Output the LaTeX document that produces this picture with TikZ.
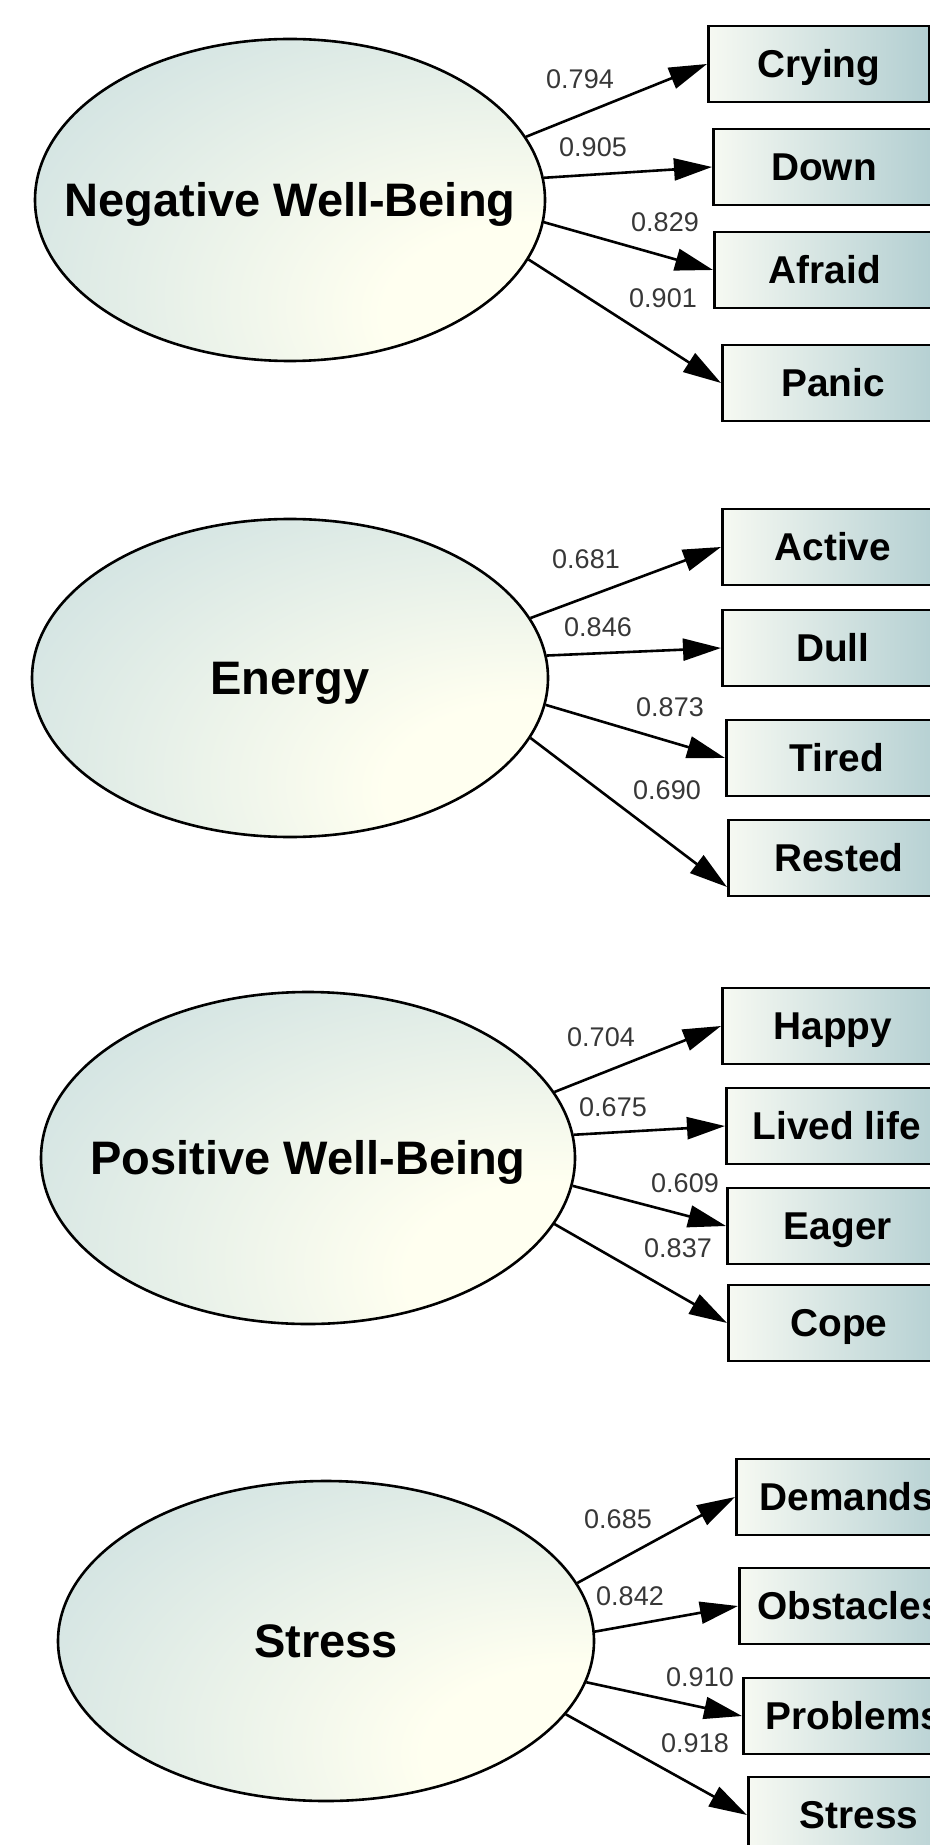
\documentclass[tikz,border=0pt]{standalone}
\usepackage{fontspec}
\setmainfont{Liberation Sans}
\usetikzlibrary{positioning,arrows.meta,shapes.geometric}

\definecolor{latblue}{RGB}{200,221,223}
\definecolor{latcream}{RGB}{255,255,240}
\definecolor{boxwhite}{RGB}{246,249,242}
\definecolor{boxblue}{RGB}{178,206,209}
\definecolor{coefgray}{RGB}{55,55,55}

% pale centre sits low on the right of each factor
\pgfdeclareradialshading{latentshade}{\pgfpoint{26bp}{-20bp}}{%
	color(0bp)=(latcream); color(14bp)=(latcream);
	color(56bp)=(latblue); color(130bp)=(latblue)}

% factor names must not widen the ellipse
\newcommand{\factorname}[1]{\makebox[0pt]{#1}}

\tikzset{
	latent/.style={ellipse, draw, line width=1.3pt, shade, shading=latentshade,
		inner sep=0pt, text height=16.8pt, text depth=0pt,
		font=\fontsize{23.5}{26}\selectfont\bfseries},
	item/.style={rectangle, draw, line width=1.4pt, left color=boxwhite, right color=boxblue,
		minimum width=110.5pt, minimum height=38pt, anchor=west, inner sep=0pt,
		text height=13.9pt, text depth=0pt, font=\fontsize{19.4}{22}\selectfont\bfseries},
	coef/.style={inner sep=0pt, text=coefgray, font=\fontsize{13.5}{15}\selectfont},
	loading/.style={->, >={Triangle[length=19pt,width=11pt]}, line width=1.3pt},
}

\begin{document}
\begin{tikzpicture}[x=0.5pt, y=-0.5pt]
	\useasboundingbox (0, 0) rectangle (930, 1845);
	\clip (0, 0) rectangle (930, 1845);
	\fill [white] (0, 0) rectangle (930, 1845);

	% negative well-being
	\node [latent, minimum width=255pt, minimum height=161pt] (neg) at (290, 200) {\factorname{Negative Well-Being}};
	\node [item] (crying) at (707, 64) {Crying};
	\node [item] (down) at (712, 167) {Down};
	\node [item] (afraid) at (713, 270) {Afraid};
	\node [item] (panic) at (721, 383) {Panic};

	\node [coef] (c794) at (580, 79) {0.794};
	\node [coef] (c905) at (593, 147) {0.905};
	\node [coef] (c829) at (665, 222) {0.829};
	\node [coef] (c901) at (663, 298) {0.901};

	\draw [loading] (neg.15) to (crying.west);
	\draw [loading] (neg.5) to (down.west);
	\draw [loading] (neg.355) to (afraid.west);
	\draw [loading] (neg.346) to (panic.west);

	% energy
	\node [latent, minimum width=258pt, minimum height=159pt] (energy) at (290, 678) {\factorname{Energy}};
	\node [item] (active) at (721, 547) {Active};
	\node [item] (dull) at (721, 648) {Dull};
	\node [item] (tired) at (725, 758) {Tired};
	\node [item] (rested) at (727, 858) {Rested};

	\node [coef] (c681) at (586, 559) {0.681};
	\node [coef] (c846) at (598, 627) {0.846};
	\node [coef] (c873) at (670, 707) {0.873};
	\node [coef] (c690) at (667, 790) {0.690};

	\draw [loading] (energy.14) to (active.west);
	\draw [loading] (energy.5) to (dull.west);
	\draw [loading] (energy.354) to (tired.west);
	\draw [loading] (energy.346) to ([yshift=-14.5pt]rested.west);

	% positive well-being
	\node [latent, minimum width=267pt, minimum height=166pt] (pos) at (308, 1158) {\factorname{Positive Well-Being}};
	\node [item] (happy) at (721, 1026) {Happy};
	\node [item] (lived) at (725, 1126) {Lived life};
	\node [item] (eager) at (726, 1226) {Eager};
	\node [item] (cope) at (727, 1323) {Cope};

	\node [coef] (c704) at (601, 1037) {0.704};
	\node [coef] (c675) at (613, 1107) {0.675};
	\node [coef] (c609) at (685, 1183) {0.609};
	\node [coef] (c837) at (678, 1248) {0.837};

	\draw [loading] (pos.15) to (happy.west);
	\draw [loading] (pos.5) to (lived.west);
	\draw [loading] (pos.354) to (eager.west);
	\draw [loading] (pos.345) to (cope.west);

	% stress
	\node [latent, minimum width=268pt, minimum height=160pt] (stress) at (326, 1641) {\factorname{Stress}};
	\node [item] (demands) at (735, 1497) {Demands};
	\node [item] (obstacles) at (738, 1606) {Obstacles};
	\node [item] (problems) at (742, 1716) {Problems};
	\node [item] (stressitem) at (747, 1815) {Stress};

	\node [coef] (c685) at (618, 1519) {0.685};
	\node [coef] (c842) at (630, 1596) {0.842};
	\node [coef] (c910) at (700, 1677) {0.910};
	\node [coef] (c918) at (695, 1743) {0.918};

	\draw [loading] (stress.13) to (demands.west);
	\draw [loading] (stress.2) to (obstacles.west);
	\draw [loading] (stress.351) to (problems.west);
	\draw [loading] (stress.343) to (stressitem.west);
\end{tikzpicture}
\end{document}
